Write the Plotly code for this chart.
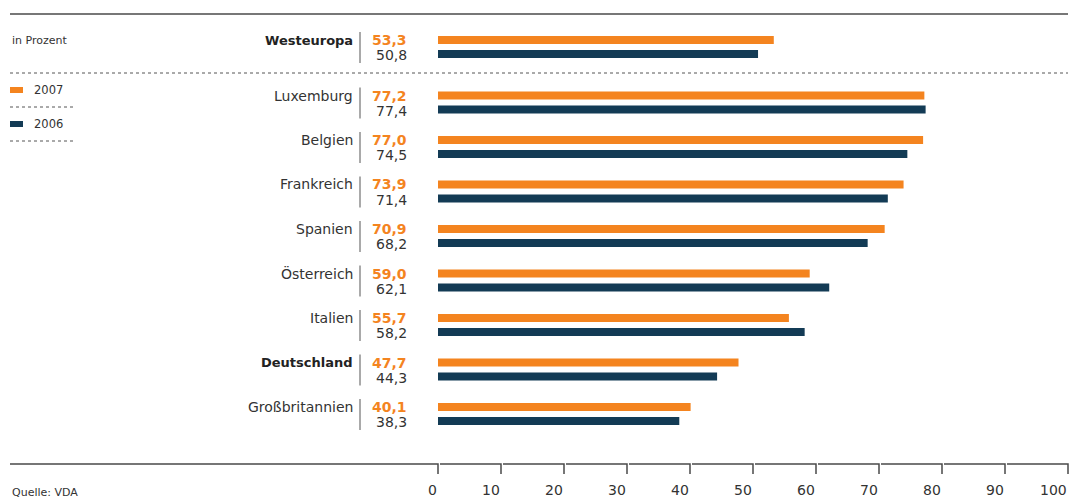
import plotly.graph_objects as go

# ---- data ----
countries = ["Westeuropa", "Luxemburg", "Belgien", "Frankreich", "Spanien",
             "Österreich", "Italien", "Deutschland", "Großbritannien"]
v2007 = [53.3, 77.2, 77.0, 73.9, 70.9, 59.0, 55.7, 47.7, 40.1]
v2006 = [50.8, 77.4, 74.5, 71.4, 68.2, 62.1, 58.2, 44.3, 38.3]
bold_rows = ["Westeuropa", "Deutschland"]
tick_vals = [0, 10, 20, 30, 40, 50, 60, 70, 80, 90, 100]
tick_text = [str(t) for t in tick_vals]

ORANGE = "#F4841F"
NAVY = "#133B55"
TEXT = "#333333"
LINE = "#4a4a4a"
FONT = "DejaVu Sans"

W, H = 1079, 500
L, R, T, B = 438, 11, 14, 36
PW = W - L - R
PH = H - T - B


def px(x):
    return (x - L) / PW


def py(y):
    return 1 - (y - T) / PH


# row centre positions (y axis units = pixels below top line)
centers = []
for i, c in enumerate(countries):
    if i == 0:
        centers.append(33)
    else:
        centers.append(88.5 + 44.5 * (i - 1))

fig = go.Figure()
fig.add_trace(go.Bar(
    x=v2007, y=[c - 7 for c in centers], orientation="h", width=8,
    marker=dict(color=ORANGE, line=dict(width=0)), name="2007",
    hoverinfo="x"))
fig.add_trace(go.Bar(
    x=v2006, y=[c + 7 for c in centers], orientation="h", width=8,
    marker=dict(color=NAVY, line=dict(width=0)), name="2006",
    hoverinfo="x"))

shapes = []
annotations = []

# top solid line
shapes.append(dict(type="line", xref="paper", yref="paper",
                   x0=px(10), x1=px(1068), y0=py(14), y1=py(14),
                   line=dict(color=LINE, width=1.5)))
# dashed separator
shapes.append(dict(type="line", xref="paper", yref="paper",
                   x0=px(10), x1=px(1068), y0=py(73), y1=py(73),
                   line=dict(color="#555555", width=1, dash="3px,3px")))

# bottom axis with bracket ticks
ax_y = 464
tick_px = [L + PW * t / 100 for t in tick_vals]
prev = 10
for tp in tick_px:
    shapes.append(dict(type="path", xref="paper", yref="paper",
                       path=f"M {px(prev)},{py(ax_y)} L {px(tp)},{py(ax_y)} L {px(tp)},{py(ax_y + 10)}",
                       line=dict(color=LINE, width=1.5)))
    prev = tp + 2
for tp, tt in zip(tick_px, tick_text):
    annotations.append(dict(xref="paper", yref="paper", x=px(tp + 1), y=py(490),
                            text=tt, showarrow=False, xanchor="right", yanchor="middle",
                            font=dict(family=FONT, size=14, color=TEXT)))

# row labels
for c, name, a, b in zip(centers, countries, v2007, v2006):
    is_bold = name in bold_rows
    annotations.append(dict(
        xref="paper", yref="paper", x=px(355), y=py(T + c - 7),
        text=f"<b>{name}</b>" if is_bold else name, showarrow=False,
        xanchor="right", yanchor="middle",
        font=dict(family=FONT, size=13 if is_bold else 14, color="#222222" if is_bold else TEXT)))
    annotations.append(dict(
        xref="paper", yref="paper", x=px(409), y=py(T + c - 7),
        text="<b>" + f"{a:.1f}".replace(".", ",") + "</b>", showarrow=False,
        xanchor="right", yanchor="middle",
        font=dict(family=FONT, size=14, color=ORANGE)))
    annotations.append(dict(
        xref="paper", yref="paper", x=px(409), y=py(T + c + 8),
        text=f"{b:.1f}".replace(".", ","), showarrow=False,
        xanchor="right", yanchor="middle",
        font=dict(family=FONT, size=14, color=TEXT)))
    shapes.append(dict(type="line", xref="paper", yref="paper",
                       x0=px(360), x1=px(360), y0=py(T + c - 15), y1=py(T + c + 16),
                       line=dict(color="#555555", width=1)))

# left texts
annotations.append(dict(xref="paper", yref="paper", x=px(10), y=py(40),
                        text="in Prozent", showarrow=False, xanchor="left", yanchor="middle",
                        font=dict(family=FONT, size=11, color=TEXT)))
annotations.append(dict(xref="paper", yref="paper", x=px(10), y=py(492),
                        text="Quelle: VDA", showarrow=False, xanchor="left", yanchor="middle",
                        font=dict(family=FONT, size=11, color=TEXT)))

# legend
for yc, label, col in [(90, "2007", ORANGE), (124, "2006", NAVY)]:
    shapes.append(dict(type="rect", xref="paper", yref="paper",
                       x0=px(10), x1=px(23), y0=py(yc - 3), y1=py(yc + 3),
                       fillcolor=col, line=dict(width=0)))
    annotations.append(dict(xref="paper", yref="paper", x=px(32), y=py(yc),
                            text=label, showarrow=False, xanchor="left", yanchor="middle",
                            font=dict(family=FONT, size=11.5, color=TEXT)))
    shapes.append(dict(type="line", xref="paper", yref="paper",
                       x0=px(10), x1=px(73), y0=py(yc + 17), y1=py(yc + 17),
                       line=dict(color="#555555", width=1, dash="3px,3px")))

fig.update_layout(
    width=W, height=H,
    margin=dict(l=L, r=R, t=T, b=B, pad=0),
    paper_bgcolor="white", plot_bgcolor="white",
    barmode="overlay", showlegend=False,
    xaxis=dict(range=[0, 100], visible=False, fixedrange=True),
    yaxis=dict(range=[PH, 0], visible=False, fixedrange=True),
    shapes=shapes, annotations=annotations,
)

fig.write_html(
    "out.html",
    config={"displayModeBar": False},
    post_script="document.body.style.margin='0';document.body.style.overflow='hidden';",
)
